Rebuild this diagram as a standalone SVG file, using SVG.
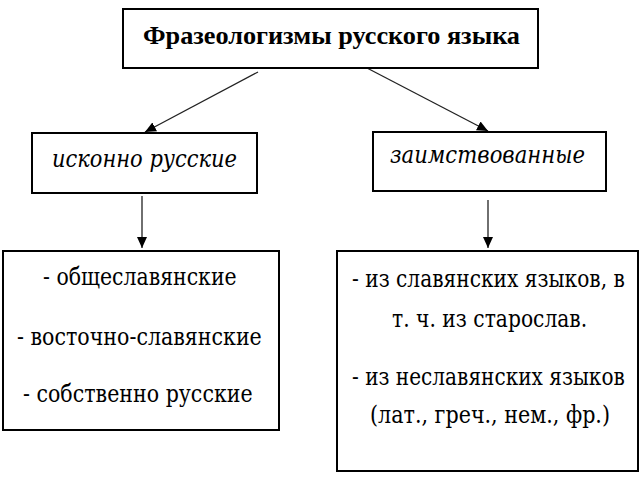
<svg xmlns="http://www.w3.org/2000/svg" width="640" height="480" viewBox="0 0 640 480">
<style>
.box{fill:#fff;stroke:#000;stroke-width:2}
.title{font-family:"Liberation Serif",serif;font-size:26px;font-weight:bold;fill:#000}
.it{font-family:"DejaVu Serif",serif;font-size:25px;font-style:italic;fill:#000}
.li{font-family:"DejaVu Serif",serif;font-size:25px;fill:#000}
.con{stroke:#222;stroke-width:1.3;fill:none;marker-end:url(#ah)}
</style>
<defs>
<marker id="ah" markerUnits="userSpaceOnUse" markerWidth="12" markerHeight="10" refX="11" refY="5" orient="auto">
<path d="M0,0 L11,5 L0,10 Z" fill="#000"/>
</marker>
</defs>
<rect width="640" height="480" fill="#fff"/>
<g id="connectors">
<line class="con" x1="258" y1="72" x2="145" y2="132"/>
<line class="con" x1="367" y1="68" x2="488" y2="131"/>
<line class="con" x1="142" y1="196" x2="142" y2="248"/>
<line class="con" x1="488" y1="200" x2="488" y2="248"/>
</g>
<g id="root">
<rect class="box" x="123" y="9" width="415" height="59"/>
<text class="title" x="143" y="44" textLength="377" lengthAdjust="spacingAndGlyphs">Фразеологизмы русского языка</text>
</g>
<g id="native">
<rect class="box" x="32" y="133" width="225" height="60"/>
<text class="it" x="52" y="167" textLength="185" lengthAdjust="spacingAndGlyphs">исконно русские</text>
</g>
<g id="borrowed">
<rect class="box" x="373" y="132" width="233" height="59"/>
<text class="it" x="390" y="163" textLength="195" lengthAdjust="spacingAndGlyphs">заимствованные</text>
</g>
<g id="native-list">
<rect class="box" x="3" y="251" width="276" height="179"/>
<text class="li" transform="translate(43 285) scale(0.8 1)" textLength="242" lengthAdjust="spacingAndGlyphs">- общеславянские</text>
<text class="li" transform="translate(17 345) scale(0.8 1)" textLength="306" lengthAdjust="spacingAndGlyphs">- восточно-славянские</text>
<text class="li" transform="translate(23 402) scale(0.8 1)" textLength="287" lengthAdjust="spacingAndGlyphs">- собственно русские</text>
</g>
<g id="borrowed-list">
<rect class="box" x="337" y="251" width="301" height="220"/>
<text class="li" transform="translate(352 287) scale(0.8 1)" textLength="341" lengthAdjust="spacingAndGlyphs">- из славянских языков, в</text>
<text class="li" transform="translate(392 327) scale(0.8 1)" textLength="244" lengthAdjust="spacingAndGlyphs">т. ч. из старослав.</text>
<text class="li" transform="translate(352 385) scale(0.8 1)" textLength="341" lengthAdjust="spacingAndGlyphs">- из неславянских языков</text>
<text class="li" transform="translate(370 423) scale(0.8 1)" textLength="300" lengthAdjust="spacingAndGlyphs">(лат., греч., нем., фр.)</text>
</g>
</svg>
